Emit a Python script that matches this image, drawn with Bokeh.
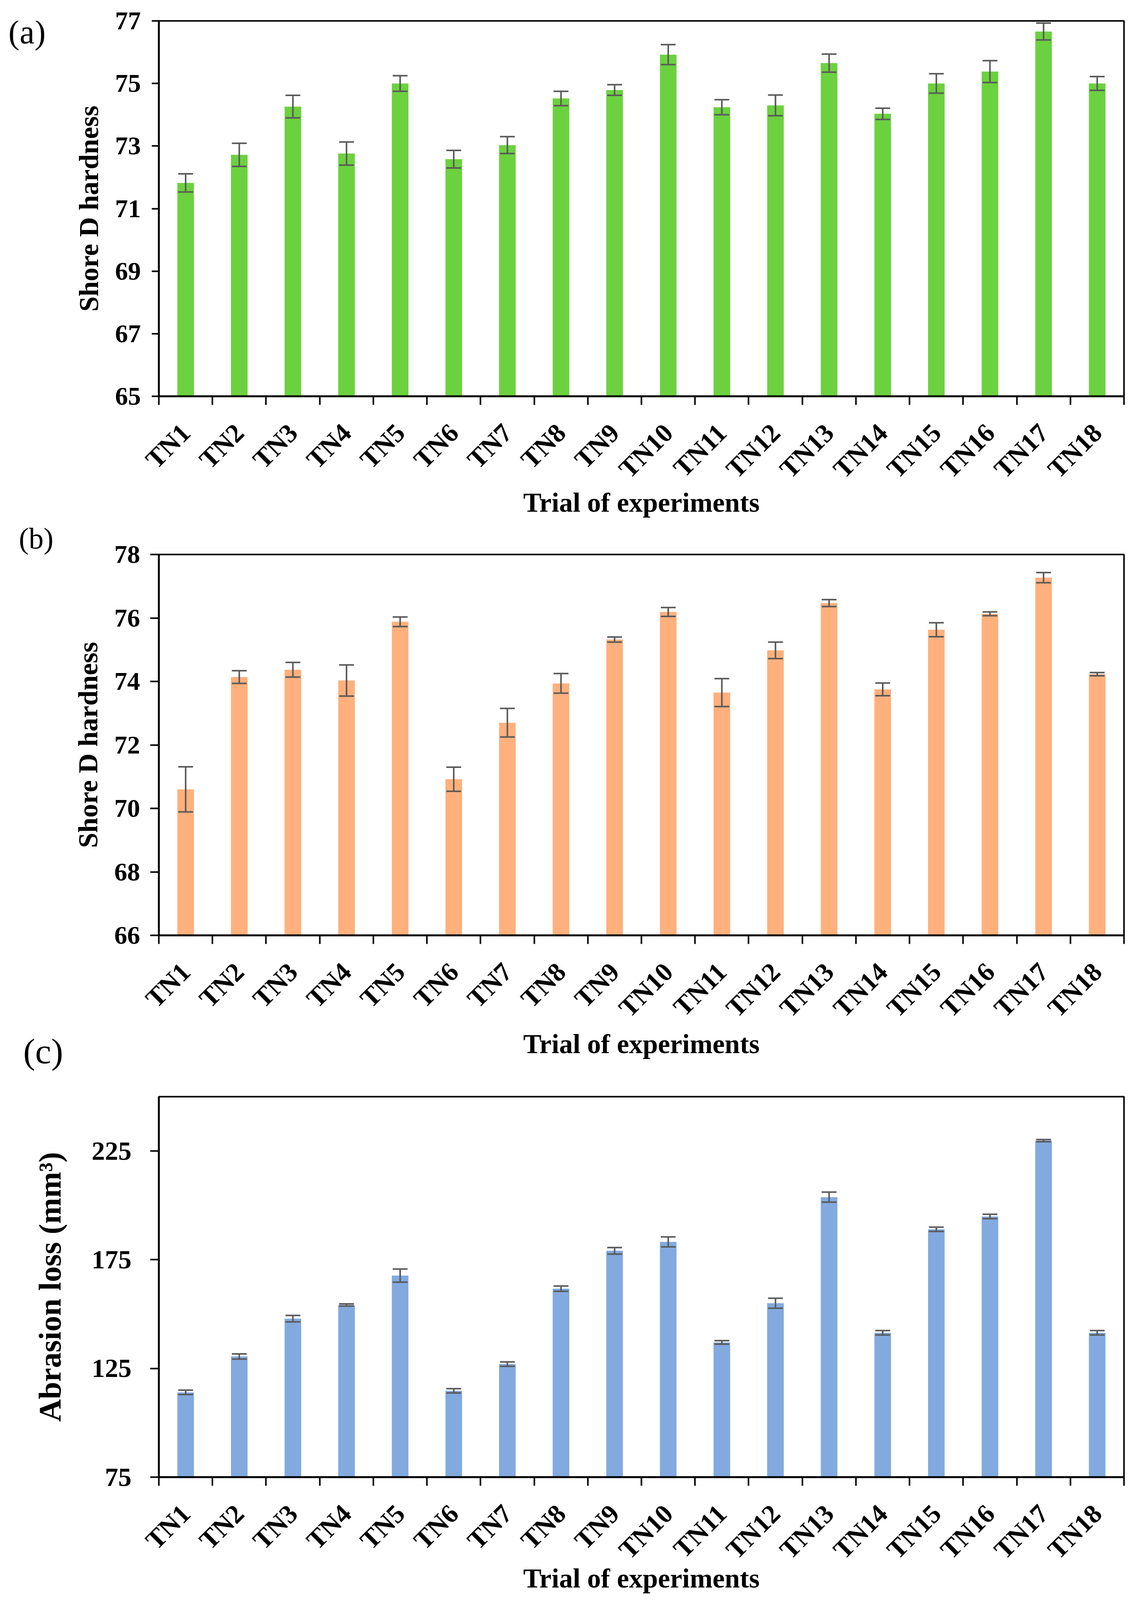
import math
from bokeh.plotting import figure
from bokeh.layouts import column, row
from bokeh.models import Range1d, FixedTicker, ColumnDataSource, Whisker, TeeHead, LinearAxis
from bokeh.core.properties import value
from bokeh.embed import file_html
from bokeh.resources import INLINE

# ---------------- data ----------------
trials = ["TN1", "TN2", "TN3", "TN4", "TN5", "TN6", "TN7", "TN8", "TN9",
          "TN10", "TN11", "TN12", "TN13", "TN14", "TN15", "TN16", "TN17", "TN18"]

hard_a = [71.82, 72.72, 74.26, 72.76, 75.00, 72.58, 73.03, 74.52, 74.79,
          75.92, 74.24, 74.30, 75.65, 74.03, 75.00, 75.38, 76.66, 75.00]
err_a = [0.29, 0.37, 0.36, 0.37, 0.25, 0.28, 0.27, 0.23, 0.17,
         0.32, 0.24, 0.33, 0.29, 0.18, 0.31, 0.35, 0.27, 0.22]

hard_b = [70.60, 74.14, 74.37, 74.03, 75.88, 70.92, 72.70, 73.94, 75.32,
          76.19, 73.65, 74.98, 76.47, 73.75, 75.63, 76.13, 77.27, 74.23]
err_b = [0.71, 0.20, 0.23, 0.49, 0.15, 0.38, 0.45, 0.31, 0.08,
         0.14, 0.44, 0.26, 0.11, 0.20, 0.22, 0.06, 0.16, 0.05]

abr_c = [114.0, 130.5, 147.9, 154.2, 167.7, 114.7, 127.0, 161.7, 179.1,
         183.2, 137.0, 155.0, 203.8, 141.4, 189.0, 194.9, 229.8, 141.4]
err_c = [1.0, 1.2, 1.5, 0.5, 3.0, 1.0, 1.0, 1.2, 1.5,
         2.3, 0.8, 2.3, 2.3, 1.0, 1.0, 1.0, 0.5, 1.0]

yticks_a = [65, 67, 69, 71, 73, 75, 77]
yticks_b = [66, 68, 70, 72, 74, 76, 78]
yticks_c = [75, 125, 175, 225]

panel_tags = ["(a)", "(b)", "(c)"]

FONT = "Liberation Serif"
TAGW = 170


def panel(width, height, bleft, btop, bbot, yr, yticks, vals, errs, color,
          ylabel, ylab_size, ytick_size, ytick_out, ytick_standoff, ylab_standoff,
          xlab_standoff):
    n = len(trials)
    p = figure(width=width, height=height, x_range=Range1d(0, n), y_range=Range1d(*yr),
               output_backend="svg", toolbar_location=None,
               min_border_left=bleft, min_border_right=28,
               min_border_top=btop, min_border_bottom=bbot)
    p.background_fill_color = "white"
    p.border_fill_color = "white"
    p.outline_line_color = "black"
    p.outline_line_width = 4
    p.xgrid.visible = False
    p.ygrid.visible = False

    xs = [i + 0.5 for i in range(n)]
    src = ColumnDataSource(dict(x=xs, top=vals,
                                upper=[v + e for v, e in zip(vals, errs)],
                                lower=[v - e for v, e in zip(vals, errs)]))
    p.vbar(x="x", top="top", bottom=yr[0], width=0.31, source=src,
           fill_color=color, line_color=None)

    wk = Whisker(base="x", upper="upper", lower="lower", source=src,
                 line_color="#5a5a5a", line_width=4,
                 upper_head=TeeHead(size=38, line_color="#5a5a5a", line_width=4),
                 lower_head=TeeHead(size=38, line_color="#5a5a5a", line_width=4))
    wk.level = "overlay"
    p.add_layout(wk)

    # x axis: labels at bar centres, ticks at category boundaries
    xa = p.xaxis[0]
    xa.ticker = FixedTicker(ticks=xs, minor_ticks=list(range(n + 1)))
    xa.major_label_overrides = {x: t for x, t in zip(xs, trials)}
    xa.major_label_orientation = math.pi / 4
    xa.major_tick_out = 0
    xa.major_tick_in = 0
    xa.minor_tick_out = 22
    xa.minor_tick_in = 0
    xa.minor_tick_line_color = "black"
    xa.minor_tick_line_width = 4
    xa.axis_line_color = "black"
    xa.axis_line_width = 5
    xa.major_label_standoff = 60
    xa.major_label_text_font = FONT
    xa.major_label_text_font_style = "bold"
    xa.major_label_text_font_size = "68px"
    xa.major_label_text_color = "black"
    xa.axis_label = "Trial of experiments"
    xa.axis_label_text_font = FONT
    xa.axis_label_text_font_style = "bold"
    xa.axis_label_text_font_size = "70px"
    xa.axis_label_text_color = "black"
    xa.axis_label_standoff = xlab_standoff

    ya = p.yaxis[0]
    ya.ticker = FixedTicker(ticks=yticks, minor_ticks=[])
    ya.major_tick_out = ytick_out
    ya.major_tick_in = 0
    ya.major_tick_line_color = "black"
    ya.major_tick_line_width = 4
    ya.axis_line_color = "black"
    ya.axis_line_width = 5
    ya.major_label_standoff = ytick_standoff
    ya.major_label_text_font = FONT
    ya.major_label_text_font_style = "bold"
    ya.major_label_text_font_size = ytick_size
    ya.major_label_text_color = "black"
    ya.axis_label = ylabel
    ya.axis_label_text_font = FONT
    ya.axis_label_text_font_style = "bold"
    ya.axis_label_text_font_size = ylab_size
    ya.axis_label_text_color = "black"
    ya.axis_label_standoff = ylab_standoff
    return p


def blank_tag_fig(height, yr):
    t = figure(width=TAGW, height=height, x_range=Range1d(0, TAGW),
               y_range=Range1d(*yr), output_backend="svg",
               toolbar_location=None, min_border=0,
               x_axis_location=None, y_axis_location=None)
    t.outline_line_color = None
    t.xgrid.visible = False
    t.ygrid.visible = False
    t.background_fill_color = "white"
    t.border_fill_color = "white"
    return t


def tag_axis(xpos, text, size, standoff):
    ax = LinearAxis(ticker=FixedTicker(ticks=[xpos], minor_ticks=[]),
                    major_label_overrides={xpos: text})
    ax.axis_line_color = None
    ax.major_tick_line_color = None
    ax.minor_tick_line_color = None
    ax.major_tick_out = 0
    ax.major_tick_in = 0
    ax.major_label_standoff = standoff
    ax.major_label_text_font = FONT
    ax.major_label_text_font_size = size
    ax.major_label_text_color = "black"
    return ax


# rows: A = page y 8..1340, B = 1340..2752, C = 2752..4099
HA, HB, HC = 1332, 1412, 1347

pa = panel(2904 - TAGW, HA, 236, 53, 318, (65, 77), yticks_a, hard_a, err_a, "#6cd13f",
           "Shore D hardness", "70px", "66px", 18, 28, 26, -20)
pb = panel(2904 - TAGW, HB, 236, 84, 348, (66, 78), yticks_b, hard_b, err_b, "#ffb07c",
           "Shore D hardness", "70px", "66px", 22, 26, 26, -14)
pc = panel(2904, HC, 406, 63, 310, (75, 250), yticks_c, abr_c, err_c, "#82aadf",
           "Abrasion loss (mm³)", "80px", "68px", 22, 48, 60, -33)

# tag (a): inside the frame of panel (a), in its data units
ta = blank_tag_fig(HA, (65, 77))
ta.text(x=[21], y=[76.65], text=[panel_tags[0]], text_font=value(FONT),
        text_font_size="86px", text_color="black", text_align="left",
        text_baseline="middle")

# tags (b) and (c): above / below the frame of panel (b)
tb = blank_tag_fig(HB, (66, 78))
tb.add_layout(tag_axis(92, panel_tags[1], "76px", 0), "above")
tb.add_layout(tag_axis(110, panel_tags[2], "92px", 245), "below")

layout = column(row(ta, pa), row(tb, pb), pc)
open("out.html", "w").write(file_html(layout, INLINE))
